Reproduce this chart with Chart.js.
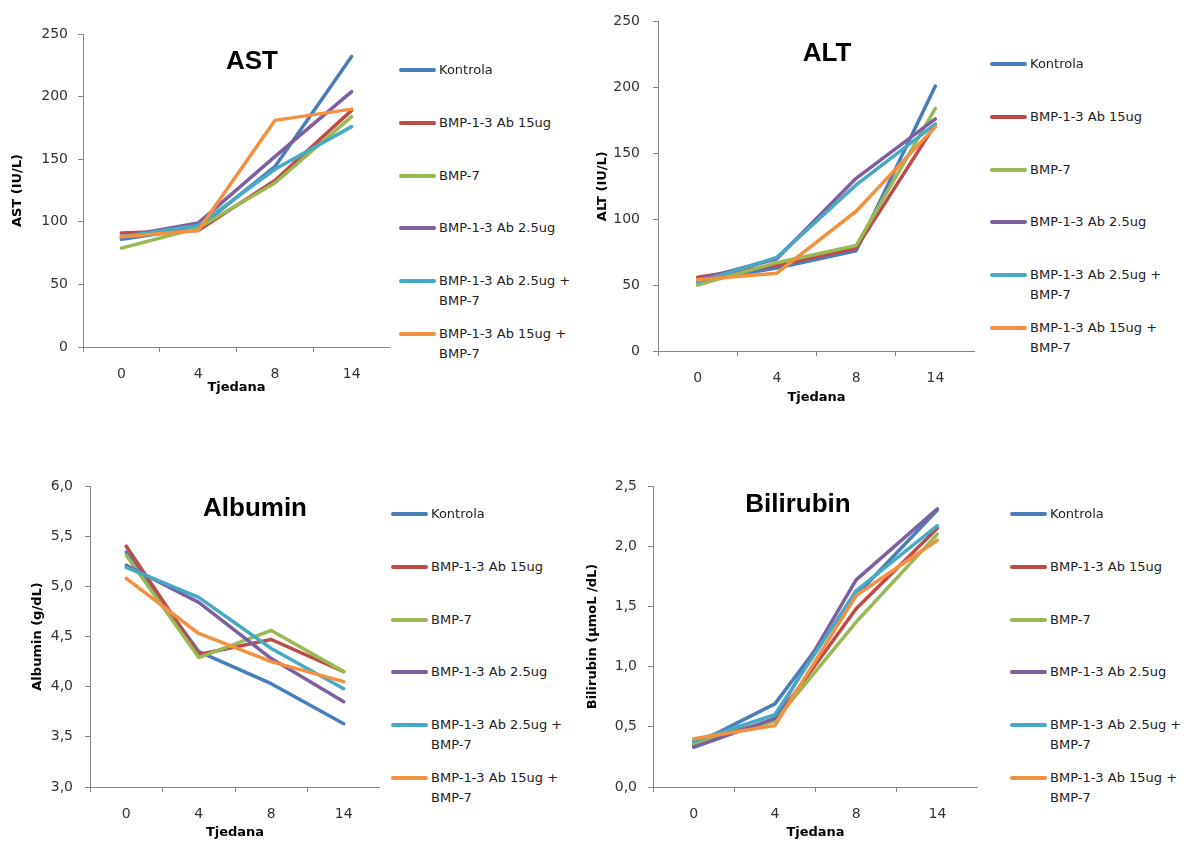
<!DOCTYPE html>
<html lang="hr">
<head>
<meta charset="UTF-8">
<title>AST, ALT, Albumin, Bilirubin</title>
<script src="https://cdn.jsdelivr.net/npm/chart.js"></script>
<style>
    body { margin: 0; background: #fff; width: 1192px; height: 841px; position: relative; overflow: hidden; font-family: "DejaVu Sans", sans-serif; }
    .panel { position: absolute; }
    .naslov { position: absolute; transform: translate(-50%, -50%); font: bold 26px "Liberation Sans", Arial, sans-serif; color: #000; white-space: nowrap; }
    .legenda { position: absolute; width: 190px; }
    .stavka { position: absolute; left: 0; display: flex; align-items: flex-start; font-size: 13px; line-height: 20px; color: #222; }
    .crta { width: 37px; height: 4px; border-radius: 2px; margin-top: 8px; margin-right: 3px; flex: none; }
    .tekst { width: 140px; }
</style>
</head>
<body>

<canvas id="astCanvas" class="panel" width="390" height="395" style="left:0;top:0"></canvas>
<canvas id="altCanvas" class="panel" width="395" height="405" style="left:580px;top:0"></canvas>
<canvas id="albCanvas" class="panel" width="380" height="400" style="left:0;top:440px"></canvas>
<canvas id="bilCanvas" class="panel" width="398" height="400" style="left:580px;top:440px"></canvas>

<div class="naslov" style="left:252px;top:60px">AST</div>
<div class="naslov" style="left:827px;top:52px">ALT</div>
<div class="naslov" style="left:255px;top:507px">Albumin</div>
<div class="naslov" style="left:798px;top:503px">Bilirubin</div>

<div class="legenda" id="leg1" style="left:399px;top:60px"></div>
<div class="legenda" id="leg2" style="left:990px;top:54px"></div>
<div class="legenda" id="leg3" style="left:391px;top:504px"></div>
<div class="legenda" id="leg4" style="left:1010px;top:504px"></div>

<script>
    // kategorije (tjedni)
    const tjedni = ['0', '4', '8', '14'];

    const grupe = ['Kontrola', 'BMP-1-3 Ab 15ug', 'BMP-7', 'BMP-1-3 Ab 2.5ug',
        'BMP-1-3 Ab 2.5ug + BMP-7', 'BMP-1-3 Ab 15ug + BMP-7'];
    const boje = ['#4A7EBB', '#BE4B48', '#98B954', '#7D60A0', '#46AAC5', '#F39142'];

    // vrijednosti po grupama, redom kao u nizu grupe
    const astVrijednosti = [
        [86, 95, 144, 232],
        [91, 93, 133, 189],
        [79, 95, 131, 184],
        [88, 99, 152, 204],
        [88, 97, 142, 176],
        [88, 93, 181, 190]
    ];
    const altVrijednosti = [
        [53, 63, 76, 201],
        [56, 65, 78, 172],
        [50, 67, 80, 184],
        [54, 70, 131, 176],
        [52, 71, 126, 172],
        [54, 59, 106, 170]
    ];
    const albuminVrijednosti = [
        [5.34, 4.35, 4.03, 3.63],
        [5.40, 4.32, 4.47, 4.15],
        [5.31, 4.29, 4.56, 4.15],
        [5.21, 4.84, 4.28, 3.85],
        [5.19, 4.89, 4.38, 3.98],
        [5.08, 4.53, 4.25, 4.05]
    ];
    const bilirubinVrijednosti = [
        [0.35, 0.69, 1.59, 2.30],
        [0.38, 0.55, 1.48, 2.15],
        [0.36, 0.55, 1.37, 2.10],
        [0.33, 0.57, 1.72, 2.31],
        [0.38, 0.60, 1.63, 2.17],
        [0.40, 0.51, 1.59, 2.05]
    ];

    Chart.defaults.font.family = '"DejaVu Sans", sans-serif';
    Chart.defaults.color = '#333';

    const sivo = '#868686';

    function zarez(v) {
        return v.toFixed(1).replace('.', ',');
    }

    function nacrtaj(id, vrijednosti, os, yMin, yMax, korak, decimalno, p) {
        const datasets = vrijednosti.map((niz, i) => ({
            label: grupe[i],
            data: niz,
            borderColor: boje[i],
            backgroundColor: boje[i],
            borderWidth: 3.5,
            borderJoinStyle: 'round',
            borderCapStyle: 'round',
            pointRadius: 0,
            tension: 0,
            order: grupe.length - i
        }));

        new Chart(document.getElementById(id), {
            type: 'line',
            data: { labels: tjedni, datasets },
            options: {
                responsive: false,
                animation: false,
                devicePixelRatio: 1,
                layout: { padding: { top: p.top, left: 0, right: 0, bottom: 0 } },
                plugins: { legend: { display: false }, tooltip: { enabled: false } },
                scales: {
                    x: {
                        offset: true,
                        border: { color: sivo },
                        grid: { offset: true, drawOnChartArea: false, tickLength: 5, color: sivo },
                        ticks: { padding: 14, font: { size: 14 } },
                        title: { display: true, text: 'Tjedana', color: '#000', font: { size: 13, weight: 'bold' }, padding: 0 },
                        afterFit: s => { s.height = p.xVisina; }
                    },
                    y: {
                        min: yMin,
                        max: yMax,
                        border: { color: sivo },
                        grid: { drawOnChartArea: false, tickLength: 5, color: sivo },
                        ticks: {
                            stepSize: korak,
                            padding: p.tickPad,
                            font: { size: 14 },
                            callback: v => decimalno ? zarez(v) : v
                        },
                        title: { display: true, text: os, color: '#000', font: { size: 13, weight: 'bold' }, padding: { top: p.naslovPad, bottom: 0 } },
                        afterFit: s => { s.width = p.ySirina; }
                    }
                }
            }
        });
    }

    nacrtaj('astCanvas', astVrijednosti, 'AST (IU/L)', 0, 250, 50, false,
        { top: 34, xVisina: 48, ySirina: 83, tickPad: 10, naslovPad: 10 });
    nacrtaj('altCanvas', altVrijednosti, 'ALT (IU/L)', 0, 250, 50, false,
        { top: 18, xVisina: 54, ySirina: 78, tickPad: 13, naslovPad: 15 });
    nacrtaj('albCanvas', albuminVrijednosti, 'Albumin (g/dL)', 3, 6, 0.5, true,
        { top: 46, xVisina: 53, ySirina: 90, tickPad: 12, naslovPad: 30 });
    nacrtaj('bilCanvas', bilirubinVrijednosti, 'Bilirubin (µmoL /dL)', 0, 2.5, 0.5, true,
        { top: 46, xVisina: 53, ySirina: 73, tickPad: 11, naslovPad: 5 });

    // legende desno od svakog grafa
    ['leg1', 'leg2', 'leg3', 'leg4'].forEach(id => {
        const el = document.getElementById(id);
        grupe.forEach((ime, i) => {
            const st = document.createElement('div');
            st.className = 'stavka';
            st.style.top = (i * 52.8) + 'px';
            st.innerHTML = '<span class="crta" style="background:' + boje[i] + '"></span><span class="tekst">' + ime + '</span>';
            el.appendChild(st);
        });
    });
</script>
</body>
</html>
